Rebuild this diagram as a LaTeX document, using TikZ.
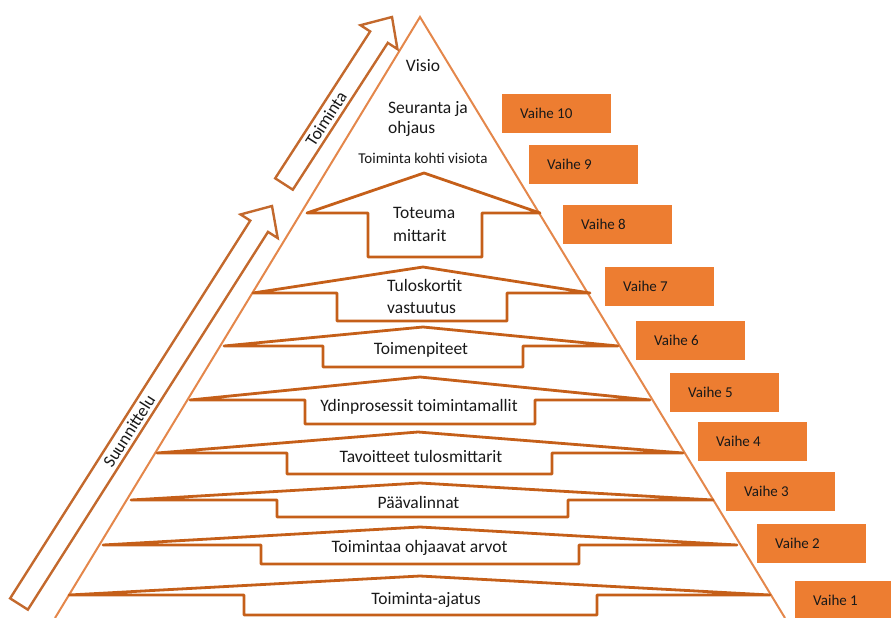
\documentclass[tikz,border=0pt]{standalone}
\usepackage{fontspec}
\setmainfont{Carlito}
\usetikzlibrary{calc}
\definecolor{stepc}{RGB}{197,95,25}
\definecolor{tric}{RGB}{228,135,75}
\definecolor{bigc}{RGB}{195,105,45}
\definecolor{boxc}{RGB}{237,125,49}
\definecolor{txt}{RGB}{25,25,25}
\newcommand\steparrow[8]{%
  \draw[stepline] (#1,#3) -- (#4,#5) -- (#2,#3) -- (#7,#3) -- (#7,#8) -- (#6,#8) -- (#6,#3) -- cycle;}
\begin{document}
\begin{tikzpicture}[x=1pt,y=-1pt,
  stepline/.style={draw=stepc, line width=2.8pt, line join=round},
  triline/.style={draw=tric, line width=2pt},
  bigarrow/.style={draw=bigc, line width=2.4pt, line join=miter},
  maintext/.style={font=\fontsize{17.5}{22.5}\selectfont, text=txt, inner sep=0pt},
  smalltext/.style={font=\fontsize{15}{18}\selectfont, text=txt, inner sep=0pt},
  vbox/.style={fill=boxc, minimum width=109pt, minimum height=39pt, inner sep=0pt, anchor=north west},
  vtext/.style={font=\fontsize{15}{18}\selectfont, text=txt, inner sep=0pt, anchor=base west}
]
\useasboundingbox (0,0) rectangle (891,618);

% pyramid
\coordinate (apex) at (420,17);
\coordinate (bl) at (55,618);
\coordinate (br) at (785,618);
\draw[triline] (bl) -- (apex) -- (br);

% step arrows: xl, xr, ys, xc, yp, sl, sr, yb
\steparrow{307}{540}{213}{424}{173}{368}{482}{257}
\steparrow{253}{590}{293}{423}{267}{337}{507}{321}
\steparrow{224}{618}{346}{423}{327}{323}{523}{367}
\steparrow{190}{650}{400}{420}{377}{305}{535}{424}
\steparrow{157}{683}{453}{418}{432}{287}{552}{474}
\steparrow{131}{713}{500}{420}{483}{277}{568}{517}
\steparrow{103}{737}{545}{420}{527}{261}{579}{564}
\steparrow{69}{770}{595}{420}{576}{244}{597}{615}

% texts inside the pyramid
\node[maintext, anchor=base] (visio) at (423,71) {Visio};
\node[maintext, anchor=base west, align=left] (seur) at (388,133) {Seuranta ja\\[-2.5pt]ohjaus};
\node[smalltext, anchor=base] (kohti) at (423,163) {Toiminta kohti visiota};
\node[maintext, anchor=base west, align=left] (tot) at (393,241) {Toteuma\\mittarit};
\node[maintext, anchor=base west, align=left] (tul) at (387,313.5) {Tuloskortit\\vastuutus};
\node[maintext, anchor=base] (toim) at (421,354) {Toimenpiteet};
\node[maintext, anchor=base] (ydin) at (419,411) {Ydinprosessit toimintamallit};
\node[maintext, anchor=base] (tav) at (421,462) {Tavoitteet tulosmittarit};
\node[maintext, anchor=base] (paa) at (418.5,508) {Päävalinnat};
\node[maintext, anchor=base] (arv) at (419.5,552) {Toimintaa ohjaavat arvot};
\node[maintext, anchor=base] (ajat) at (426,604) {Toiminta-ajatus};

% big arrows
\coordinate (sB) at (19,604);
\coordinate (sT) at (272,206);
\coordinate (sN) at ($(sT)!24pt!(sB)$);
\draw[bigarrow] ($(sB)!10.5pt!90:(sT)$) -- ($(sN)!10.5pt!-90:(sB)$) -- ($(sN)!22pt!-90:(sB)$)
  -- (sT) -- ($(sN)!22pt!90:(sB)$) -- ($(sN)!10.5pt!90:(sB)$) -- ($(sB)!10.5pt!-90:(sT)$) -- cycle;
\node[maintext, rotate=57.5] (suun) at ($(sB)!0.435!(sT)$) {Suunnittelu};

\coordinate (tB) at (284,184);
\coordinate (tT) at (392,17);
\coordinate (tN) at ($(tT)!24pt!(tB)$);
\draw[bigarrow] ($(tB)!10.5pt!90:(tT)$) -- ($(tN)!10.5pt!-90:(tB)$) -- ($(tN)!22pt!-90:(tB)$)
  -- (tT) -- ($(tN)!22pt!90:(tB)$) -- ($(tN)!10.5pt!90:(tB)$) -- ($(tB)!10.5pt!-90:(tT)$) -- cycle;
\node[maintext, rotate=57.1] (toimA) at ($(tB)!0.39!(tT)$) {Toiminta};

% phase boxes
\foreach \n/\x/\y in {10/502/94, 9/529/145, 8/563/205, 7/605/267, 6/636/321, 5/670/373, 4/698/422, 3/726/472, 2/757/524, 1/795/581}{
  \node[vbox] (v\n) at (\x,\y) {};
  \node[vtext] (vt\n) at ([xshift=18pt,yshift=-5pt]v\n.west) {Vaihe \n};
}
\end{tikzpicture}
\end{document}
